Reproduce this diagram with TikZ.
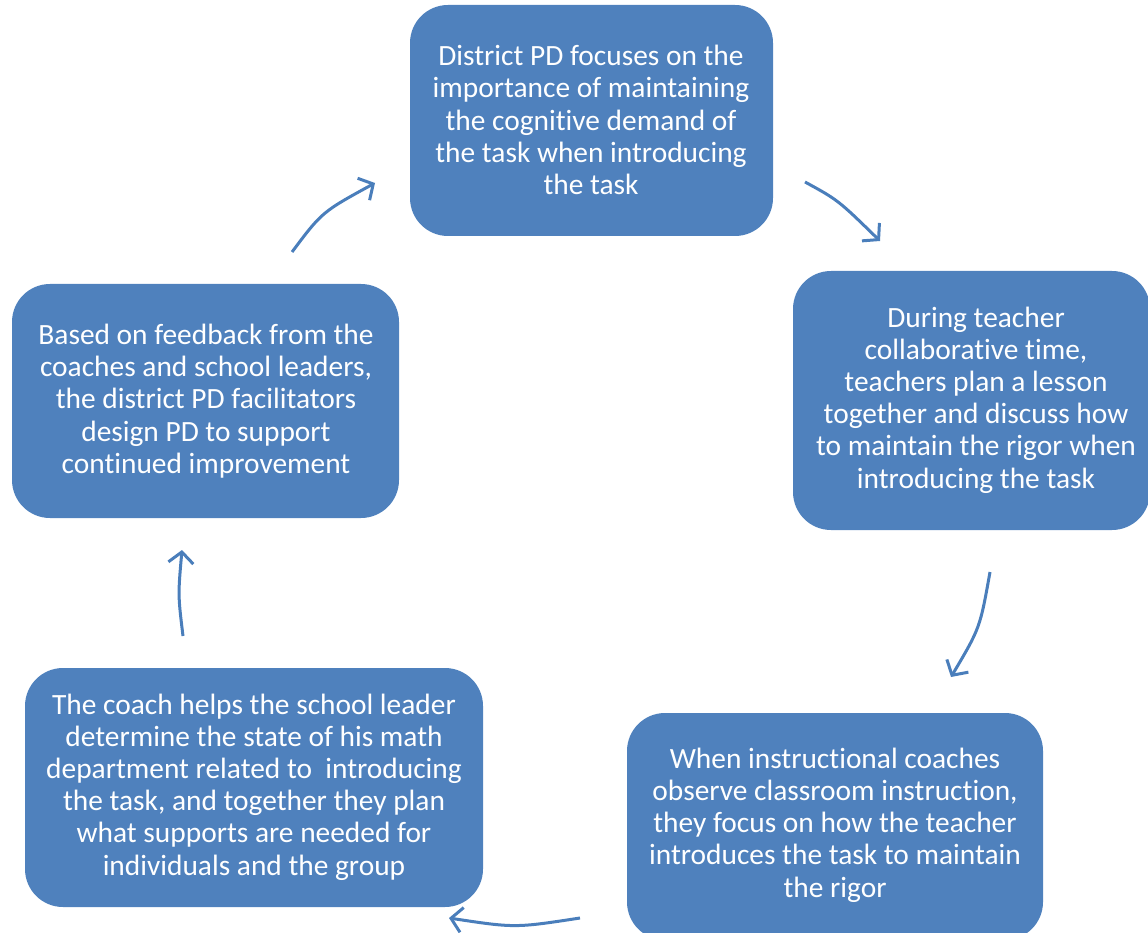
\documentclass[tikz,border=0pt]{standalone}
\usepackage{fontspec}
\setmainfont{Carlito}[RawFeature=-liga]
\usetikzlibrary{arrows.meta}
\definecolor{boxblue}{HTML}{4F81BD}
\definecolor{arrowblue}{HTML}{4A7EBB}
\tikzset{
  stagebox/.style={fill=boxblue, draw=none, rounded corners=38pt},
  stagetext/.style={text=white, align=center, font=\fontsize{29.4}{32.2}\selectfont, inner sep=0pt},
  cyclearrow/.style={draw=arrowblue, line width=3pt, -{Straight Barb[length=11pt,width=25pt,line width=3pt]}}
}
\begin{document}
\begin{tikzpicture}[x=1pt,y=-1pt]
\useasboundingbox (0,0) rectangle (1148,933);
\begin{scope}
\clip (0,0) rectangle (1148,933);
% boxes
\path[stagebox] (410,5) rectangle (773,236);
\path[stagebox] (793,271) rectangle (1150,530);
\path[stagebox] (627,713) rectangle (1043,940);
\path[stagebox] (25,668) rectangle (483,907);
\path[stagebox] (12,284) rectangle (399,518);
\end{scope}
% texts
\node[stagetext] (s1) at (591,120) {District PD focuses on the\\importance of maintaining\\the cognitive demand of\\the task when introducing\\the task};
\node[stagetext] (s2) at (976,400) {During teacher\\collaborative time,\\teachers plan a lesson\\together and discuss how\\to maintain the rigor when\\introducing the task};
\node[stagetext] (s3) at (835,825) {When instructional coaches\\observe classroom instruction,\\they focus on how the teacher\\introduces the task to maintain\\the rigor};
\node[stagetext] (s4) at (254,787) {The coach helps the school leader\\determine the state of his math\\department related to\ \ introducing\\the task, and together they plan\\what supports are needed for\\individuals and the group};
\node[stagetext] (s5) at (206,401) {Based on feedback from the\\coaches and school leaders,\\the district PD facilitators\\design PD to support\\continued improvement};
% arrow end points
\coordinate (a1s) at (805,182); \coordinate (a1e) at (880,241);
\coordinate (a2s) at (990,572); \coordinate (a2e) at (951,677);
\coordinate (a3s) at (580,918); \coordinate (a3e) at (449,918);
\coordinate (a4s) at (183,636); \coordinate (a4e) at (182,550);
\coordinate (a5s) at (292,252); \coordinate (a5e) at (375,183);
\draw[cyclearrow] (a1s) .. controls (838,200) .. (a1e);
\draw[cyclearrow] (a2s) .. controls (980,628) .. (a2e);
\draw[cyclearrow] (a3s) .. controls (515,928) .. (a3e);
\draw[cyclearrow] (a4s) .. controls (178,595) .. (a4e);
\draw[cyclearrow] (a5s) .. controls (322,212) .. (a5e);
\end{tikzpicture}
\end{document}
